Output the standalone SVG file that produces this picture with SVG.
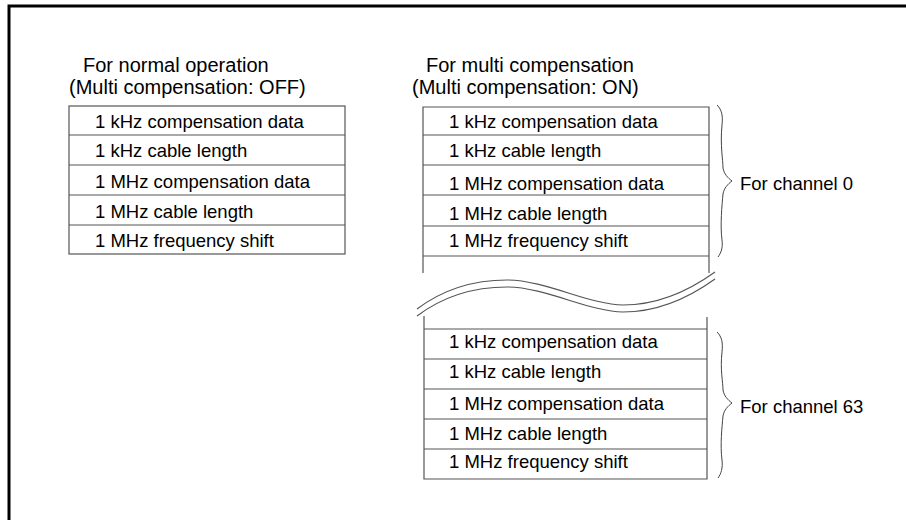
<svg xmlns="http://www.w3.org/2000/svg" width="906" height="520" viewBox="0 0 906 520">
<style>
.t{font-family:"Liberation Sans",Arial,sans-serif;fill:#000}
.h{font-size:20px}
.r{font-size:18.5px}
.c{font-size:18.5px}
.ln{stroke:#555;stroke-width:1.2;fill:none}
.br{stroke:#444;stroke-width:1;fill:none}
.wv{stroke:#555;stroke-width:1.1;fill:none}
</style>
<rect width="906" height="520" fill="#fff"/>
<path d="M9,520 V6 H906" stroke="#000" stroke-width="3" fill="none"/>

<g id="title-normal">
<text class="t h" x="83" y="72">For normal operation</text>
<text class="t h" x="69" y="94">(Multi compensation: OFF)</text>
</g>
<g id="title-multi">
<text class="t h" x="426" y="72">For multi compensation</text>
<text class="t h" x="412" y="94">(Multi compensation: ON)</text>
</g>

<g id="table-normal">
<rect class="ln" x="69" y="106" width="276" height="148"/>
<path class="ln" d="M69,135H345M69,165H345M69,195H345M69,225H345"/>
<text class="t r" x="95" y="128">1 kHz compensation data</text>
<text class="t r" x="95" y="157">1 kHz cable length</text>
<text class="t r" x="95" y="188">1 MHz compensation data</text>
<text class="t r" x="95" y="218">1 MHz cable length</text>
<text class="t r" x="95" y="247">1 MHz frequency shift</text>
</g>

<g id="table-ch0">
<path class="ln" d="M423,273V107H709V273M423,135H709M423,165H709M423,195H709M423,226H709M423,256H709"/>
<text class="t r" x="449" y="128">1 kHz compensation data</text>
<text class="t r" x="449" y="157">1 kHz cable length</text>
<text class="t r" x="449" y="190">1 MHz compensation data</text>
<text class="t r" x="449" y="220">1 MHz cable length</text>
<text class="t r" x="449" y="247">1 MHz frequency shift</text>
</g>

<g id="break">
<path class="wv" d="M417,309 C445,288 475,280 507,280 C545,280 590,305 623,305 C660,305 690,290 715,272"/>
<path class="wv" d="M417,316 C445,295 475,287 507,287 C545,287 590,312 623,312 C660,312 690,297 715,279"/>
</g>

<g id="table-ch63">
<path class="ln" d="M424,316V479H707V317M424,329H707M424,359H707M424,389H707M424,419H707M424,449H707"/>
<text class="t r" x="449" y="348">1 kHz compensation data</text>
<text class="t r" x="449" y="378">1 kHz cable length</text>
<text class="t r" x="449" y="410">1 MHz compensation data</text>
<text class="t r" x="449" y="440">1 MHz cable length</text>
<text class="t r" x="449" y="468">1 MHz frequency shift</text>
</g>

<g id="brace-ch0">
<path class="br" d="M717,105 C722,110 723,116 722,125 C720,145 723,160 723,168 C724,174 728,178 732,181 C728,184 724,188 723,194 C722,205 720,225 722,240 C723,248 721,253 718,257"/>
<text class="t c" x="740" y="190">For channel 0</text>
</g>

<g id="brace-ch63">
<path class="br" d="M717,332 C722,337 723,343 722,352 C720,370 723,382 723,390 C724,396 728,400 732,403 C728,406 724,410 723,416 C722,427 720,445 722,460 C723,468 721,474 718,478"/>
<text class="t c" x="740" y="413">For channel 63</text>
</g>
</svg>
